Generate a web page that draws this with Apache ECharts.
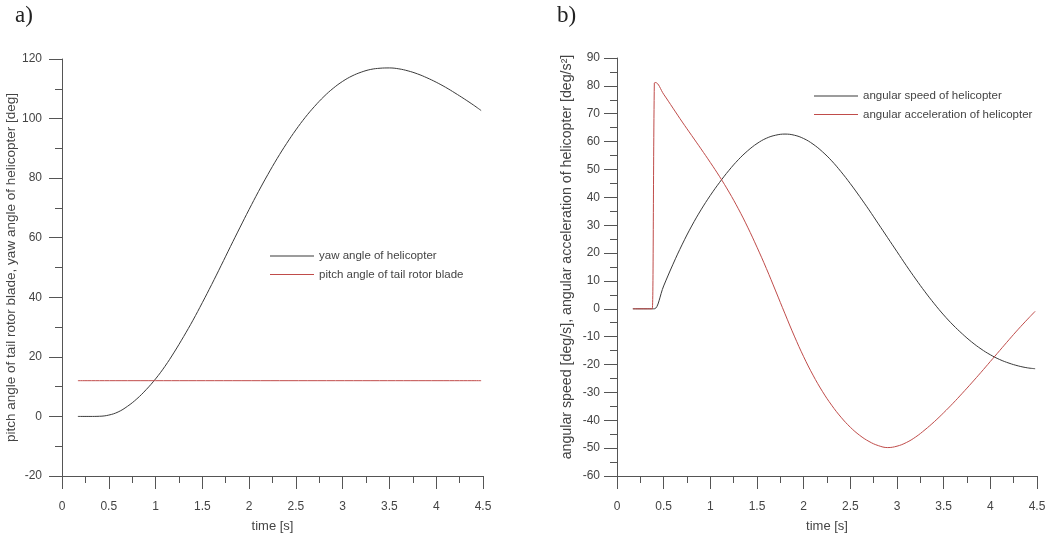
<!DOCTYPE html>
<html>
<head>
<meta charset="utf-8">
<script src="https://cdn.jsdelivr.net/npm/echarts@6/dist/echarts.min.js"></script>
<style>
html,body{margin:0;padding:0;background:#fff;}
#chart{width:1052px;height:538px;}
</style>
</head>
<body>
<div id="chart"></div>
<script>
// ---- data ----
const yawAngle = [
  [0.17,0],[0.3,0],[0.4,0.05],[0.5,0.45],[0.6,1.5],[0.7,3.4],[0.8,5.9],[0.9,9.0],[1.0,12.6],
  [1.1,16.8],[1.2,21.6],[1.3,26.8],[1.4,32.3],[1.5,38.2],[1.6,44.3],[1.7,50.6],[1.8,57.0],
  [1.9,63.3],[2.0,69.5],[2.1,75.5],[2.2,81.2],[2.3,86.6],[2.4,91.6],[2.5,96.2],[2.6,100.4],
  [2.7,104.1],[2.8,107.4],[2.9,110.2],[3.0,112.5],[3.1,114.3],[3.2,115.6],[3.3,116.5],
  [3.4,116.9],[3.5,117.0],[3.6,116.7],[3.7,116.0],[3.8,115.0],[3.9,113.7],[4.0,112.2],
  [4.1,110.5],[4.2,108.6],[4.3,106.6],[4.4,104.5],[4.48,102.7]
];
const pitchAngle = [[0.17,12],[4.48,12]];

const angularSpeed = [
  [0.17,0],[0.3,0],[0.39,0],[0.4,0],[0.5,8.2],[0.6,16],[0.7,23.2],[0.8,29.7],[0.9,35.5],
  [1.0,40.7],[1.1,45.4],[1.2,49.7],[1.3,53.5],[1.4,56.7],[1.5,59.3],[1.6,61.2],[1.7,62.3],
  [1.8,62.7],[1.9,62.3],[2.0,61.1],[2.1,59.1],[2.2,56.4],[2.3,53.1],[2.4,49.2],[2.5,44.9],
  [2.6,40.3],[2.7,35.5],[2.8,30.5],[2.9,25.5],[3.0,20.5],[3.1,15.5],[3.2,10.7],[3.3,6.1],
  [3.4,1.8],[3.5,-2.2],[3.6,-5.8],[3.7,-9.0],[3.8,-11.9],[3.9,-14.4],[4.0,-16.5],
  [4.1,-18.2],[4.2,-19.5],[4.3,-20.5],[4.4,-21.2],[4.48,-21.5]
];
const angularAccel = [
  [0.17,0],[0.3,0],[0.37,0],[0.378,0],[0.40,81],[0.41,81.2],[0.5,77],[0.6,72],[0.7,67],
  [0.8,62.2],[0.9,57.4],[1.0,52.5],[1.1,47.4],[1.2,41.9],[1.3,35.9],[1.4,29.3],[1.5,22.1],
  [1.6,14.5],[1.7,6.4],[1.8,-1.8],[1.9,-9.8],[2.0,-17.2],[2.1,-23.8],[2.2,-29.6],[2.3,-34.6],
  [2.4,-38.9],[2.5,-42.5],[2.6,-45.4],[2.7,-47.6],[2.8,-49.1],[2.9,-49.8],[3.0,-49.3],
  [3.1,-48.0],[3.2,-46.0],[3.3,-43.4],[3.4,-40.5],[3.5,-37.3],[3.6,-33.9],[3.7,-30.3],
  [3.8,-26.6],[3.9,-22.8],[4.0,-18.9],[4.1,-15.0],[4.2,-11.1],[4.3,-7.3],[4.4,-3.7],[4.48,-0.9]
];

const xTicks = {min:0, max:4.5, interval:0.5};
const leftY = {min:-20, max:120, interval:20};
const rightY = {min:-60, max:90, interval:10};

const names = {
  yaw: 'yaw angle of helicopter',
  pitch: 'pitch angle of tail rotor blade',
  speed: 'angular speed of helicopter',
  accel: 'angular acceleration of helicopter'
};

// ---- styling ----
const FONT = 'Liberation Sans, Arial, sans-serif';
const SERIF = 'Liberation Serif, DejaVu Serif, serif';
const AX = '#555';
const TXT = '#444';
const BLACK = '#3a3a3a';
const RED = '#c04c4a';

function xAxis(gridIndex){
  return {
    type:'value', gridIndex, min:xTicks.min, max:xTicks.max, interval:xTicks.interval,
    name:'time [s]', nameLocation:'middle', nameGap:44,
    nameTextStyle:{fontFamily:FONT, fontSize:13, color:TXT},
    axisLine:{show:true, onZero:false, lineStyle:{color:AX, width:1}},
    axisTick:{show:true, length:13, lineStyle:{color:AX}},
    minorTick:{show:true, splitNumber:2, length:7, lineStyle:{color:AX}},
    axisLabel:{fontFamily:FONT, fontSize:12, color:TXT, margin:25},
    splitLine:{show:false}
  };
}
function yAxis(gridIndex, r, name, gap, fs, pad, lblMargin){
  return {
    type:'value', gridIndex, min:r.min, max:r.max, interval:r.interval,
    name, nameLocation:'middle', nameGap:gap,
    nameTextStyle:{fontFamily:FONT, fontSize:fs, color:TXT, padding:pad},
    axisLine:{show:true, onZero:false, lineStyle:{color:AX, width:1}},
    axisTick:{show:true, length:13, lineStyle:{color:AX}},
    minorTick:{show:true, splitNumber:2, length:7, lineStyle:{color:AX}},
    axisLabel:{fontFamily:FONT, fontSize:12, color:TXT, margin:lblMargin},
    splitLine:{show:false}
  };
}
function line(name, data, xi, color){
  return {
    name, type:'line', xAxisIndex:xi, yAxisIndex:xi, data,
    symbol:'none', smooth:0.4,
    lineStyle:{color, width:1}, itemStyle:{color},
    animation:false
  };
}
function legend(data, left, top){
  return {
    data, left, top, orient:'vertical', padding:0, icon:'rect',
    itemWidth:44, itemHeight:1, itemGap:6.5,
    textStyle:{fontFamily:FONT, fontSize:11.5, color:TXT}
  };
}

const chart = echarts.init(document.getElementById('chart'), null, {renderer:'canvas'});
chart.setOption({
  backgroundColor:'#fff',
  animation:false,
  title:[
    {text:'a)', left:15, top:4, padding:0, textStyle:{fontFamily:SERIF, fontSize:23, fontWeight:'normal', color:'#222'}},
    {text:'b)', left:557, top:4, padding:0, textStyle:{fontFamily:SERIF, fontSize:23, fontWeight:'normal', color:'#222'}}
  ],
  grid:[
    {left:62, top:59, width:421, height:421},
    {left:617, top:58, width:420, height:420}
  ],
  xAxis:[xAxis(0), xAxis(1)],
  yAxis:[
    yAxis(0, leftY, 'pitch angle of tail rotor blade, yaw angle of helicopter [deg]', 44, 13.5, 0, 20),
    yAxis(1, rightY, 'angular speed [deg/s], angular acceleration of helicopter [deg/s\u00B2]', 43, 14.2, [0,0,0,20], 17)
  ],
  legend:[
    legend([names.yaw, names.pitch], 270, 250),
    legend([names.speed, names.accel], 814, 90)
  ],
  series:[
    line(names.yaw, yawAngle, 0, BLACK),
    line(names.pitch, pitchAngle, 0, RED),
    line(names.speed, angularSpeed, 1, BLACK),
    line(names.accel, angularAccel, 1, RED)
  ]
});
</script>
</body>
</html>
